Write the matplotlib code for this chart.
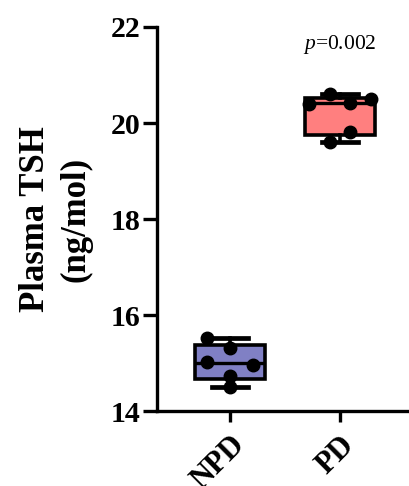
import numpy as np
import matplotlib
matplotlib.use("Agg")
import matplotlib.pyplot as plt
import matplotlib.transforms as mtransforms

# ---- data ----
categories = ["NPD", "PD"]
npd_values = [15.53, 15.31, 15.03, 14.96, 14.72, 14.50]
pd_values = [20.60, 20.50, 20.40, 20.42, 19.81, 19.60]
series = [npd_values, pd_values]
# horizontal scatter (jitter) per point, in category units
npd_jitter = [-0.21, 0.0, -0.21, 0.21, 0.0, 0.0]
pd_jitter = [-0.09, 0.28, -0.28, 0.09, 0.09, -0.09]
jitters = [npd_jitter, pd_jitter]
box_colors = ["#8080C4", "#FF7F7F"]
yticks = [14, 16, 18, 20, 22]
p_label = "0.002"

plt.rcParams['mathtext.fontset'] = 'custom'
plt.rcParams['mathtext.it'] = 'Liberation Serif:italic'
plt.rcParams['mathtext.rm'] = 'Liberation Serif'

FONT = "Liberation Serif"

fig = plt.figure(figsize=(4.10, 4.86), dpi=100)
ax = fig.add_axes([157/410, 75/486, 253/410, 384/486])

positions = np.arange(1, len(categories) + 1)

# box statistics (GraphPad-like quartiles, whiskers min-max)
stats = []
for vals, lab in zip(series, categories):
    v = np.asarray(vals)
    q1, med, q3 = np.percentile(v, [25, 50, 75], method="weibull")
    stats.append(dict(med=med, q1=q1, q3=q3, whislo=v.min(), whishi=v.max(),
                      fliers=[], label=lab))

bp = ax.bxp(stats, positions=positions, widths=0.64, patch_artist=True,
            showfliers=False, capwidths=0.33,
            boxprops=dict(linewidth=2.6, edgecolor="black"),
            medianprops=dict(color="black", linewidth=2.4),
            whiskerprops=dict(color="black", linewidth=2.6),
            capprops=dict(color="black", linewidth=3.4),
            manage_ticks=False, zorder=2)
for patch, c in zip(bp["boxes"], box_colors):
    patch.set_facecolor(c)

for pos, vals, jit in zip(positions, series, jitters):
    ax.plot(pos + np.asarray(jit), vals, "o", color="black", markersize=9,
            zorder=5, clip_on=False)

ax.set_xlim(0.336, 2.636)
ax.set_ylim(14, 22)
ax.set_yticks(yticks)
ax.set_xticks(positions)
ax.set_yticklabels([str(t) for t in yticks], fontfamily=FONT,
                   fontweight="bold", fontsize=21.5)
ax.set_xticklabels(categories, fontfamily=FONT, fontweight="bold",
                   fontsize=22, rotation=45, ha="right", va="top",
                   rotation_mode="anchor")
offset = mtransforms.ScaledTranslation(-9/100, -4/100, fig.dpi_scale_trans)
for lbl in ax.get_xticklabels():
    lbl.set_transform(lbl.get_transform() + offset)

for s in ["top", "right"]:
    ax.spines[s].set_visible(False)
for s in ["left", "bottom"]:
    ax.spines[s].set_linewidth(2.4)
ax.tick_params(axis="y", length=10, width=2.4, pad=2)
ax.tick_params(axis="x", length=8, width=2.4, pad=6)

ax.set_ylabel("Plasma TSH\n(ng/mol)", fontfamily=FONT, fontweight="bold",
              fontsize=25, labelpad=13, linespacing=1.3)

ax.text(positions[1], 21.64, r"$\it{p}$=" + p_label, fontfamily=FONT,
        fontsize=15.5, ha="center", va="center")

fig.savefig("out.png", dpi=100)
